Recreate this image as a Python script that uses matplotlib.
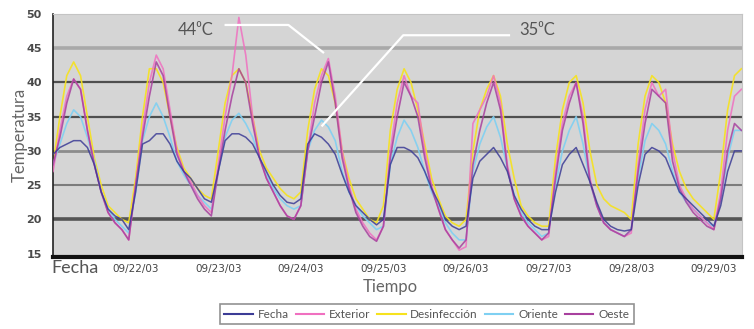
from matplotlib import pyplot as plt
import numpy as np

# hours from start, one reading every 2 hours (day 0 = left edge of plot)
hours = np.arange(0, 201, 2)

fecha = [29.5, 30.5, 31, 31.5, 31.5, 30.5, 28, 24, 21.5, 20.5, 20, 18.5,
         24, 31, 31.5, 32.5, 32.5, 31, 28.5, 27, 26, 24.5, 23, 22.5,
         27, 31.5, 32.5, 32.5, 32, 31, 29, 27, 25, 23.5, 22.5, 22.3,
         23, 31, 32.5, 32, 31, 29.5, 26.6, 24, 22, 21, 20, 19.2,
         20, 28, 30.5, 30.5, 30, 29, 27, 24.5, 22.5, 20, 19, 18.5,
         19, 26, 28.5, 29.5, 30.5, 29, 27, 23.5, 21.5, 20, 19, 18.5,
         18.5, 24, 28, 29.5, 30.5, 28, 25.5, 22.5, 20, 19, 18.5, 18.3,
         18.5, 25, 29.5, 30.5, 30, 29, 26.5, 24, 23, 22, 21, 20,
         19, 22, 27, 30, 30]
exterior = [27, 33, 38, 40.5, 39, 33, 28, 24, 21, 19.5, 18.5, 17,
            25, 33, 40, 44, 42, 36, 30, 27, 25.5, 23.5, 22, 21,
            28, 35, 41, 49.5, 44, 35, 29, 26, 24, 22, 20.5, 20,
            22, 30, 37, 41, 43.5, 38, 30, 25, 21.5, 19.5, 18, 17,
            19, 30, 37, 41, 38, 37, 30, 25, 21.5, 18.5, 17, 15.5,
            16, 34, 36, 38, 41, 37, 28, 23, 20.5, 19, 18, 17,
            17.5, 27, 34, 38, 40, 35, 26, 22, 19.5, 18.5, 18, 17.5,
            18, 28, 36, 40, 38, 39, 30, 25, 23, 21.5, 20.5, 19.5,
            18.5, 24, 33, 38, 39]
desinfeccion = [28, 35, 41, 43, 41, 35, 29, 25, 22, 21, 20, 19.5,
                26, 35, 42, 42, 40, 35, 30.5, 27.5, 26, 24.5, 23.5, 23,
                30, 37, 41, 42, 40, 35, 30, 27.5, 26, 24.5, 23.5, 23,
                24, 33, 39, 42, 41, 37, 30, 26, 23, 21.5, 20, 19.5,
                22, 33, 39, 42, 40, 36, 31, 26, 23, 20.5, 19.5, 19,
                20, 30, 36, 39, 41, 38, 31, 26, 22, 20.5, 19.5, 19,
                19, 29, 36, 40, 41, 37, 30, 25, 23, 22, 21.5, 21,
                20, 31, 38, 41, 40, 37, 31, 27, 24.5, 23, 22, 21,
                20, 27, 36, 41, 42]
oriente = [28, 31, 34, 36, 35, 32, 28.5, 24, 21.5, 20, 19, 18,
           24, 31.5, 35, 37, 35, 32, 28.5, 26.5, 25, 23.5, 22.5, 21.5,
           27, 32, 34.5, 35.5, 34, 32, 29, 26.5, 24.5, 23, 22, 21.5,
           22, 30, 33, 34.5, 33.5, 31.5, 27, 24, 22, 20.5, 19.5, 18.5,
           19, 28, 32, 34.5, 33, 30.5, 27, 24, 22, 19.5, 18, 17,
           17, 27, 31, 33.5, 35, 32, 27.5, 23.5, 21, 19.5, 18.5, 17.5,
           18, 25, 30, 33, 35, 31, 25.5, 22, 19.5, 18.5, 18, 17.5,
           18.5, 26, 31.5, 34, 33, 31, 27, 24, 22.5, 21.5, 20.5, 19.5,
           19, 23, 29, 33, 33]
oeste = [28, 32, 37, 40.5, 39, 33, 28, 24, 21, 19.5, 18.5, 17,
         25, 32, 38, 43, 41, 35, 29.5, 27, 25, 23, 21.5, 20.5,
         27, 33, 38, 42, 40, 34, 29, 26, 24, 22, 20.5, 20,
         22, 30, 35, 40, 43, 37, 29, 24.5, 21, 19, 17.5, 16.8,
         19, 29, 35, 40, 38, 35, 29, 24.5, 21.5, 18.5, 17, 15.8,
         17, 28, 33, 37, 40, 36, 27.5, 23, 20.5, 19, 18, 17,
         18, 26, 33, 37, 40, 34, 25.5, 22, 19.5, 18.5, 18, 17.5,
         18.5, 27, 34, 39, 38, 37, 28.5, 24.5, 22.5, 21, 20, 19,
         18.5, 23, 30, 34, 33]

date_labels = ['09/22/03', '09/23/03', '09/24/03', '09/25/03',
               '09/26/03', '09/27/03', '09/28/03', '09/29/03']
date_ticks = [1, 2, 3, 4, 5, 6, 7, 8]

days = hours / 24.0

fig = plt.figure(figsize=(7.54, 3.29), dpi=100)
ax = fig.add_axes([0.0703, 0.2188, 0.9137, 0.7386])
ax.set_facecolor('#d5d5d5')

# horizontal grid bands like the original
grid_style = {45: ('#a9a9a9', 2.6), 40: ('#4f4f4f', 1.6), 35: ('#4f4f4f', 1.6),
              30: ('#8c8c8c', 2.0), 25: ('#7c7c7c', 1.5), 20: ('#555555', 2.6)}
for v, (c, lw) in grid_style.items():
    ax.axhline(v, color=c, lw=lw, zorder=1)

ax.plot(days, desinfeccion, color='#f6e21e', lw=1.2, alpha=0.9, zorder=2, label='Desinfección')
ax.plot(days, oriente, color='#7fd0f2', lw=1.2, alpha=0.9, zorder=3, label='Oriente')
ax.plot(days, exterior, color='#f070c0', lw=1.2, alpha=0.85, zorder=4, label='Exterior')
ax.plot(days, oeste, color='#a8409e', lw=1.2, alpha=0.85, zorder=5, label='Oeste')
ax.plot(days, fecha, color='#3c3c96', lw=1.1, alpha=0.85, zorder=6, label='Fecha')

ax.set_xlim(0, 8.34)
ax.set_ylim(14.5, 50)
ax.set_yticks([15, 20, 25, 30, 35, 40, 45, 50])
ax.set_xticks(date_ticks)
ax.set_xticklabels(date_labels, fontsize=7.5, color='#444444',
                   family=['Liberation Sans Narrow', 'DejaVu Sans'])
for t in ax.get_yticklabels():
    t.set_fontsize(8)
    t.set_fontweight('bold')
    t.set_color('#4a4a4a')
ax.tick_params(axis='both', length=0)
ax.tick_params(axis='y', pad=8)
ax.tick_params(axis='x', pad=5)

ax.spines['left'].set_color('#222222')
ax.spines['left'].set_linewidth(1.2)
ax.spines['bottom'].set_color('#111111')
ax.spines['bottom'].set_linewidth(3)
ax.spines['top'].set_color('#c4c4c4')
ax.spines['right'].set_color('#c4c4c4')

# annotations
ax.plot([2.09, 2.85, 3.27], [48.4, 48.4, 44.4], color='white', lw=1.6, zorder=7)
ax.plot([5.52, 4.24, 3.26], [46.9, 46.9, 33.7], color='white', lw=1.6, zorder=7)
ax.text(1.73, 47.6, '44\u2070C', fontsize=12, color='#555555', ha='center', va='center',
        family=['Lato', 'DejaVu Sans'], zorder=8)
ax.text(5.86, 47.6, '35\u2070C', fontsize=12, color='#555555', ha='center', va='center',
        family=['Lato', 'DejaVu Sans'], zorder=8)

fig.text(0.026, 0.59, 'Temperatura', rotation=90, fontsize=12, color='#666666',
         ha='center', va='center', family=['Lato', 'DejaVu Sans'])
fig.text(0.1, 0.185, 'Fecha', fontsize=13, color='#555555', ha='center', va='center',
         family=['Lato', 'DejaVu Sans'])
fig.text(0.517, 0.128, 'Tiempo', fontsize=12, color='#666666', ha='center', va='center',
         family=['Lato', 'DejaVu Sans'])

handles, labels = ax.get_legend_handles_labels()
order = ['Fecha', 'Exterior', 'Desinfección', 'Oriente', 'Oeste']
hmap = dict(zip(labels, handles))
leg = fig.legend([hmap[k] for k in order], order, loc='upper center',
                 bbox_to_anchor=(0.566, 0.076), ncol=5, frameon=True, fancybox=False,
                 handlelength=2.4, handletextpad=0.4, columnspacing=0.6,
                 borderaxespad=0, prop={'family': ['Lato', 'DejaVu Sans'], 'size': 8.5})
leg.get_frame().set_edgecolor('#777777')
leg.get_frame().set_linewidth(1.2)
for t in leg.get_texts():
    t.set_color('#555555')
for h in leg.legend_handles:
    h.set_alpha(1)
    h.set_linewidth(1.5)

fig.savefig('out.png', dpi=100)
